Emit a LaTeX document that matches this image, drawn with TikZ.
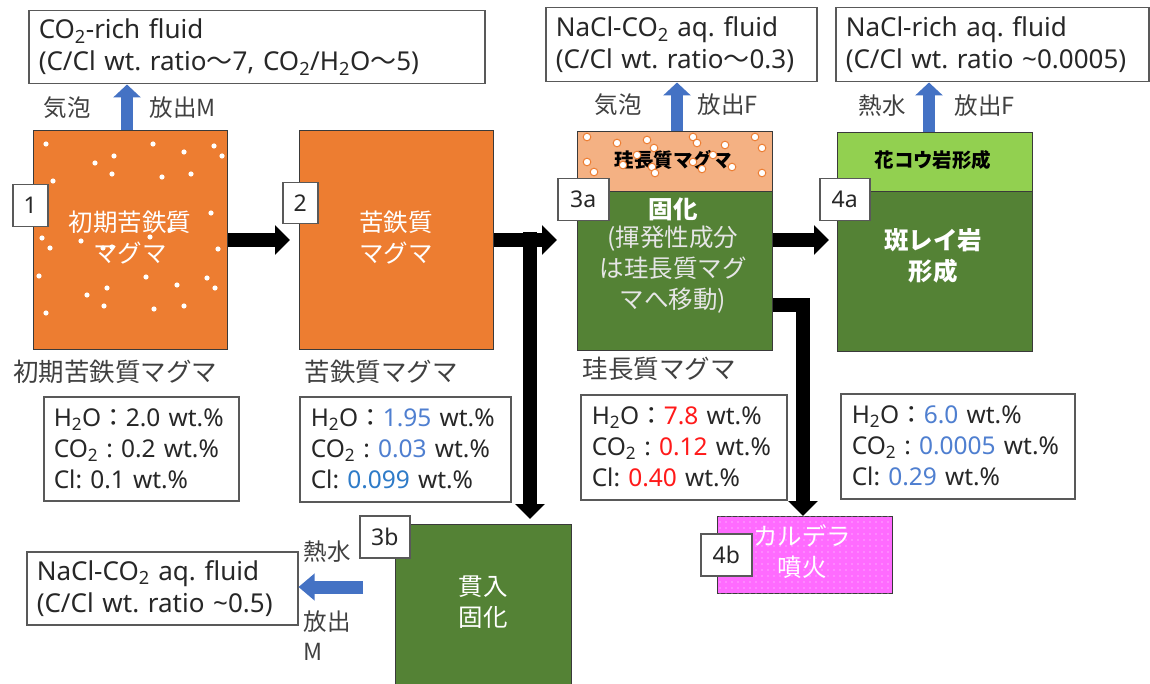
\documentclass[tikz,border=0pt]{standalone}
\usepackage{fontspec}
\setmainfont{Noto Sans CJK JP}
\newfontfamily\lat{Noto Sans}
\newfontfamily\jp{Noto Sans CJK JP}
\usetikzlibrary{arrows.meta,patterns.meta,calc}
\definecolor{mor}{HTML}{ED7D31}
\definecolor{lor}{HTML}{F4B183}
\definecolor{dgr}{HTML}{548235}
\definecolor{lgr}{HTML}{92D050}
\definecolor{mag}{HTML}{FF6BFF}
\definecolor{abl}{HTML}{4472C4}
\definecolor{vb}{HTML}{4F7FD0}
\definecolor{vb2}{HTML}{2E7BC8}
\definecolor{vr}{HTML}{FF1A1A}
\definecolor{bline}{HTML}{3A3A3A}
\definecolor{tline}{HTML}{595959}
\definecolor{ltxt}{HTML}{404040}
\definecolor{wgr}{HTML}{E6E6E6}
\frenchspacing
\begin{document}
\begin{tikzpicture}[x=1pt,y=-1pt,
  bx/.style={draw=bline, line width=1pt, inner sep=0pt, anchor=north west},
  tbox/.style={draw=tline, line width=1.5pt, fill=white, anchor=north west, align=left,
    inner xsep=10pt, inner ysep=0pt, text=ltxt!60!black, font=\lat\fontsize{24.5}{31}\selectfont},
  fbox/.style={tbox, font=\lat\fontsize{26}{32}\selectfont},
  lbl/.style={draw=tline, line width=1.5pt, fill=white, inner sep=0pt, anchor=north west,
    text=ltxt!60!black, font=\lat\fontsize{23}{24}\selectfont},
  wtxt/.style={text=white, align=center, font=\fontsize{24.5}{31}\selectfont},
  btxt/.style={align=center, font=\fontsize{24.5}{31}\selectfont\bfseries},
  captxt/.style={text=ltxt, font=\fontsize{25.5}{28}\selectfont},
  small/.style={text=ltxt, font=\fontsize{23.5}{30}\selectfont, align=left},
  blk/.style={line width=14pt, -{Triangle[length=15pt,width=29pt]}},
  blu/.style={draw=abl, line width=12pt, -{Triangle[length=13pt,width=27pt]}}
]
\useasboundingbox (0,0) rectangle (1150,684);

% top fluid boxes
\node[fbox, minimum width=456pt, minimum height=73pt, text width=436pt] (t1) at (28,10)
  {CO\textsubscript{2}-rich fluid\\(C/Cl wt. ratio{\jp 〜}7, CO\textsubscript{2}/H\textsubscript{2}O{\jp 〜}5)};
\node[fbox, minimum width=271pt, minimum height=74pt, text width=251pt] (t3) at (545,7)
  {NaCl-CO\textsubscript{2} aq. fluid\\(C/Cl wt. ratio{\jp 〜}0.3)};
\node[fbox, minimum width=313pt, minimum height=74pt, text width=293pt] (t4) at (835,7)
  {NaCl-rich aq. fluid\\(C/Cl wt. ratio \textasciitilde0.0005)};
\node[fbox, minimum width=271pt, minimum height=73pt, text width=251pt] (t3b) at (26,551)
  {NaCl-CO\textsubscript{2} aq. fluid\\(C/Cl wt. ratio \textasciitilde0.5)};

% magma boxes
\node[bx, fill=mor, minimum width=194pt, minimum height=219pt] (b1) at (33,130) {};
\foreach \px/\py in {46/144,153/144,214/146,222/156,114/156,184/152,95/163,112/174,162/177,191/174,
  53/181,211/213,42/238,50/248,81/241,150/237,112/247,218/249,39/276,146/277,207/278,215/288,
  177/285,107/288,87/295,104/306,154/309,184/306,46/313,170/230,103/248}
  \fill[white] (\px,\py) circle[radius=2.6pt];
\node[bx, fill=mor, minimum width=194pt, minimum height=219pt] (b2) at (299,130) {};
\node[bx, fill=lor, minimum width=195pt, minimum height=60pt] (b3top) at (577,131) {};
\node[bx, fill=dgr, minimum width=195pt, minimum height=159pt] (b3) at (577,191) {};
\node[btxt, font=\fontsize{19.5}{24}\selectfont\bfseries] (x3top) at (673,160) {珪長質マグマ};
\foreach \px/\py in {587/137,617/143,647/140,693/137,697/143,725/145,755/137,762/148,654/148,637/155,
  623/165,587/162,594/172,652/167,655/173,693/162,702/169,713/155,732/167,762/173}
  \filldraw[fill=white, draw=mor, line width=1pt] (\px,\py) circle[radius=3.8pt];
\node[bx, fill=lgr, minimum width=195pt, minimum height=59pt] (b4top) at (837,132) {};
\node[bx, fill=dgr, minimum width=195pt, minimum height=160pt] (b4) at (837,191) {};
\node[bx, fill=dgr, minimum width=176pt, minimum height=166pt] (b3b) at (395,524) {};
\node[bx, fill=mag, minimum width=175pt, minimum height=77pt,
  postaction={pattern={Dots[distance=6pt,radius=0.7pt]}, pattern color=white!80!mag}] (b4b) at (717,516) {};

% texts inside boxes
\node[wtxt] (x1) at (130,238) {初期苦鉄質\\マグマ};
\node[wtxt] (x2) at (396,238) {苦鉄質\\マグマ};
\node[btxt, text=white] (x3a) at (673,209) {固化};
\node[wtxt, text=wgr] (x3b) at (673,270) {(揮発性成分\\は珪長質マグ\\マへ移動)};
\node[btxt, font=\fontsize{19.5}{24}\selectfont\bfseries] (x4top) at (933,160) {花コウ岩形成};
\node[btxt, text=white] (x4) at (933,256) {斑レイ岩\\形成};
\node[wtxt] (x3bb) at (483,602) {貫入\\固化};
\node[wtxt] (x4b) at (802,552) {カルデラ\\噴火};

% number labels
\node[lbl, minimum width=35pt, minimum height=42pt] (l1) at (12,184) {1};
\node[lbl, minimum width=35pt, minimum height=41pt] (l2) at (282,182) {2};
\node[lbl, minimum width=51pt, minimum height=42pt] (l3a) at (557,178) {3a};
\node[lbl, minimum width=50pt, minimum height=42pt] (l4a) at (819,178) {4a};
\node[lbl, minimum width=50pt, minimum height=42pt] (l3b) at (359,515) {3b};
\node[lbl, minimum width=51pt, minimum height=42pt] (l4b) at (700,533) {4b};

% captions
\node[captxt] (c1) at (115,372) {初期苦鉄質マグマ};
\node[captxt] (c2) at (381,372) {苦鉄質マグマ};
\node[captxt] (c3) at (659,369) {珪長質マグマ};

% data boxes
\node[tbox, minimum width=195pt, minimum height=104pt, text width=175pt] (d1) at (43,396)
  {H\textsubscript{2}O{\jp ：}2.0 wt.\%\\CO\textsubscript{2} : 0.2 wt.\%\\Cl: 0.1 wt.\%};
\node[tbox, minimum width=209pt, minimum height=105pt, text width=189pt, inner xsep=11pt] (d2) at (299,396)
  {H\textsubscript{2}O{\jp ：}\textcolor{vb}{1.95} wt.\%\\CO\textsubscript{2} : \textcolor{vb}{0.03} wt.\%\\Cl: \textcolor{vb2}{0.099} wt.\%};
\node[tbox, minimum width=206pt, minimum height=105pt, text width=184pt, inner xsep=11pt] (d3) at (580,394)
  {H\textsubscript{2}O{\jp ：}\textcolor{vr}{7.8} wt.\%\\CO\textsubscript{2} : \textcolor{vr}{0.12} wt.\%\\Cl: \textcolor{vr}{0.40} wt.\%};
\node[tbox, minimum width=234pt, minimum height=105pt, text width=212pt, inner xsep=11pt] (d4) at (840,393)
  {H\textsubscript{2}O{\jp ：}\textcolor{vb}{6.0} wt.\%\\CO\textsubscript{2} : \textcolor{vb}{0.0005} wt.\%\\Cl: \textcolor{vb}{0.29} wt.\%};

% blue arrows and labels
\coordinate (u1) at (127,0);
\coordinate (u3) at (677,0);
\coordinate (u4) at (929,0);
\draw[blu] (b1.north -| u1) -- (t1.south -| u1);
\draw[blu] (b3top.north -| u3) -- (t3.south -| u3);
\draw[blu] (b4top.north -| u4) -- (t4.south -| u4);
\coordinate (c3bt) at (363,587);
\draw[abl, line width=13pt, -{Triangle[length=16pt,width=26pt]}] (c3bt) -- (c3bt -| t3b.east);

\node[small] (k1) at (67,108) {気泡};
\node[small, anchor=west] (h1) at (146,108) {放出M};
\node[small] (k3) at (618,105) {気泡};
\node[small, anchor=west] (h3) at (694,105) {放出F};
\node[small] (k4) at (882,106) {熱水};
\node[small, anchor=west] (h4) at (951,106) {放出F};
\node[small, anchor=west] (k3b) at (300,552) {熱水};
\node[small, anchor=north west] (h3b) at (300,607) {放出\\M};

% black arrows
\draw[blk] (b1.east) -- ($(b2.west)+(-9,0)$);
\draw[blk] (b2.east) -- ($(b3.west |- b2.east)+(-20,0)$);
\coordinate (br) at (530,232);
\draw[blk, shorten >=5pt] (br) -- (br |- b3b.north);
\coordinate (a34) at (b3.east |- 0,240);
\draw[blk, shorten >=8pt] (a34) -- (a34 -| b4.west);
\coordinate (e1) at (b3.east |- 0,305);
\coordinate (e2) at (803,0);
\draw[blk] (e1) -| (e2 |- b4b.north);
\end{tikzpicture}
\end{document}
